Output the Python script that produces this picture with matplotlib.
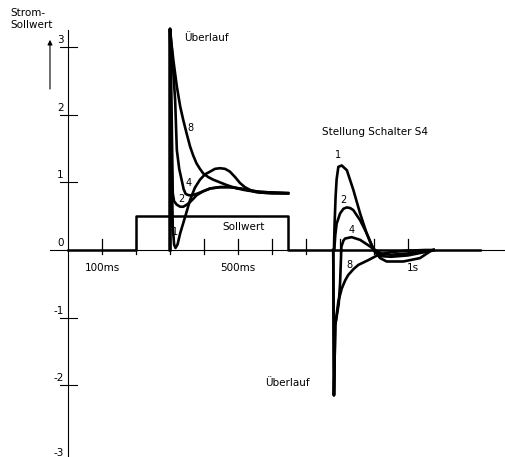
import numpy as np
import matplotlib
matplotlib.use('Agg')
import matplotlib.pyplot as plt

# Sollwert step (time in ms, value)
soll_t = [0, 200, 200, 647, 647, 1212]
soll_v = [0, 0, 0.5, 0.5, 0, 0]

# First transient (step on at 300ms), curves for switch position 1, 2, 4, 8
a1_t = [300, 300, 302, 305, 308, 312, 316, 322, 330, 345, 359, 373, 388, 403, 418, 432, 447, 462, 476, 491, 506, 520, 535, 550, 565, 600, 647]
a1_v = [0, 3.27, 2.5, 1.2, 0.35, 0.08, 0.03, 0.08, 0.25, 0.5, 0.74, 0.92, 1.04, 1.12, 1.16, 1.2, 1.21, 1.2, 1.16, 1.08, 0.99, 0.93, 0.89, 0.86, 0.85, 0.84, 0.84]

a2_t = [300, 300, 302, 305, 308, 312, 320, 330, 339, 349, 359, 369, 378, 398, 418, 447, 476, 506, 535, 565, 600, 647]
a2_v = [0, 3.27, 2.8, 1.92, 0.84, 0.72, 0.67, 0.64, 0.64, 0.67, 0.71, 0.76, 0.81, 0.87, 0.91, 0.93, 0.93, 0.91, 0.88, 0.86, 0.85, 0.84]

a4_t = [300, 300, 305, 310, 315, 320, 327, 334, 340, 346, 355, 364, 378, 398, 418, 447, 476, 506, 535, 565, 600, 647]
a4_v = [0, 3.27, 3.0, 2.6, 2.22, 1.48, 1.2, 1.04, 0.9, 0.83, 0.81, 0.81, 0.83, 0.87, 0.91, 0.93, 0.93, 0.91, 0.88, 0.86, 0.85, 0.84]

a8_t = [300, 300, 303, 310, 320, 330, 339, 349, 359, 368, 378, 388, 398, 412, 427, 447, 467, 491, 516, 540, 565, 600, 647]
a8_v = [0, 3.27, 3.1, 2.8, 2.42, 2.12, 1.92, 1.72, 1.53, 1.4, 1.28, 1.2, 1.13, 1.08, 1.04, 1.0, 0.96, 0.92, 0.89, 0.87, 0.85, 0.84, 0.84]

# Second transient (step off, at 780ms)
b1_t = [782, 784, 787, 790, 795, 805, 820, 839, 859, 878, 898, 918, 937, 986, 1035, 1065, 1075]
b1_v = [0, 0.4, 0.8, 1.05, 1.23, 1.25, 1.18, 0.89, 0.54, 0.25, 0.0, -0.12, -0.17, -0.17, -0.12, -0.02, 0]

b2_t = [783, 786, 790, 800, 810, 820, 830, 839, 859, 878, 898, 918, 950, 1000, 1050, 1075]
b2_v = [0, 0.22, 0.39, 0.54, 0.61, 0.63, 0.62, 0.59, 0.44, 0.25, 0.02, -0.09, -0.1, -0.08, -0.03, 0]

b4_t = [780, 782, 786, 796, 800, 804, 810, 815, 834, 859, 883, 903, 920, 950, 1000, 1050, 1075]
b4_v = [0, -2.15, -1.11, -0.8, -0.5, 0.05, 0.14, 0.17, 0.19, 0.15, 0.07, 0, -0.05, -0.07, -0.05, -0.02, 0]

b8_t = [780, 782, 786, 795, 805, 815, 824, 840, 854, 883, 913, 950, 1000, 1050, 1075]
b8_v = [0, -2.15, -1.11, -0.76, -0.57, -0.45, -0.37, -0.28, -0.22, -0.15, -0.07, -0.03, -0.01, 0, 0]

y_ticks = [3, 2, 1, 0, -1, -2, -3]
x_ticks = [100, 200, 300, 400, 500, 600, 700, 800, 900, 1000]

fig = plt.figure(figsize=(5.06, 4.57), dpi=100)
ax = fig.add_axes([0, 0, 1, 1])
ax.set_xlim(-200, 1288)
ax.set_ylim(-3.062, 3.698)
ax.axis('off')

# axes (thin lines)
ax.plot([-53, 1288], [0, 0], color='black', linewidth=0.8)
ax.plot([0, 0], [-3.06, 3.25], color='black', linewidth=0.8)
for v in y_ticks:
    if v not in (0, -3):
        ax.plot([-24, 26], [v, v], color='black', linewidth=0.8)
    lab = str(v)
    if v == -3:
        ax.text(-13, v, lab, ha='right', va='center', fontsize=7.5)
    else:
        ax.text(-13, v + 0.03, lab, ha='right', va='bottom', fontsize=7.5)
for t in x_ticks:
    ax.plot([t, t], [-0.06, 0.16], color='black', linewidth=0.9)

ax.text(100, -0.27, '100ms', ha='center', va='center', fontsize=7.5)
ax.text(500, -0.27, '500ms', ha='center', va='center', fontsize=7.5)
ax.text(1015, -0.27, '1s', ha='center', va='center', fontsize=7.5)

# y-axis caption and arrow
ax.text(-170, 3.42, 'Strom-\nSollwert', ha='left', va='center', fontsize=7.5, linespacing=1.3)
ax.annotate('', xy=(-53, 3.15), xytext=(-53, 2.34),
            arrowprops=dict(arrowstyle='-|>', color='black', lw=0.8, mutation_scale=7))

# signals
ax.plot(soll_t, soll_v, color='black', linewidth=1.8)
for t, v in [(a1_t, a1_v), (a2_t, a2_v), (a4_t, a4_v), (a8_t, a8_v),
             (b1_t, b1_v), (b2_t, b2_v), (b4_t, b4_v), (b8_t, b8_v)]:
    ax.plot(t, v, color='black', linewidth=1.9, solid_joinstyle='round')

# labels
ax.text(341, 3.14, 'Überlauf', ha='left', va='center', fontsize=7.5)
ax.text(579, -1.97, 'Überlauf', ha='left', va='center', fontsize=7.5)
ax.text(453, 0.34, 'Sollwert', ha='left', va='center', fontsize=7.5)
ax.text(747, 1.75, 'Stellung Schalter S4', ha='left', va='center', fontsize=7.5)

ax.text(361, 1.8, '8', ha='center', va='center', fontsize=7)
ax.text(354, 0.99, '4', ha='center', va='center', fontsize=7)
ax.text(334, 0.76, '2', ha='center', va='center', fontsize=7)
ax.text(315, 0.27, '1', ha='center', va='center', fontsize=7)
ax.text(795, 1.41, '1', ha='center', va='center', fontsize=7)
ax.text(810, 0.74, '2', ha='center', va='center', fontsize=7)
ax.text(834, 0.30, '4', ha='center', va='center', fontsize=7)
ax.text(829, -0.22, '8', ha='center', va='center', fontsize=7)

plt.savefig('out.png', dpi=100)
